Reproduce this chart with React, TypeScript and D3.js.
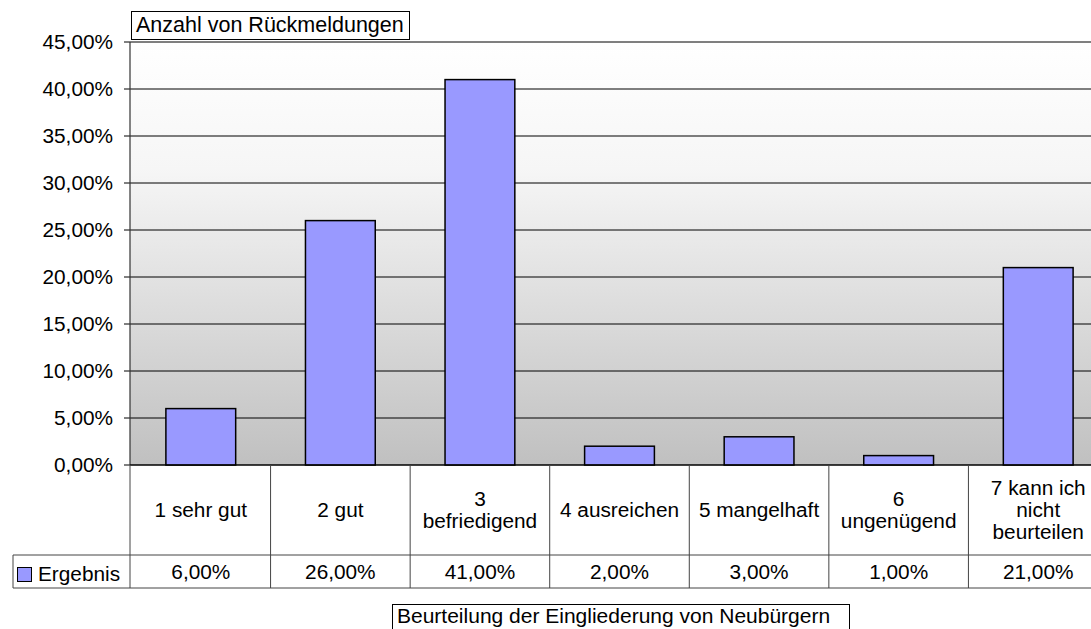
import React from "react";
import * as d3 from "d3";

const categories: string[][] = [
  ["1 sehr gut"],
  ["2 gut"],
  ["3", "befriedigend"],
  ["4 ausreichen"],
  ["5 mangelhaft"],
  ["6", "ungenügend"],
  ["7 kann ich", "nicht", "beurteilen"],
];
const values: number[] = [0.06, 0.26, 0.41, 0.02, 0.03, 0.01, 0.21];
const valueLabels: string[] = ["6,00%", "26,00%", "41,00%", "2,00%", "3,00%", "1,00%", "21,00%"];
const yTicks: number[] = [0, 0.05, 0.1, 0.15, 0.2, 0.25, 0.3, 0.35, 0.4, 0.45];
const seriesName = "Ergebnis";
const yTitle = "Anzahl von Rückmeldungen";
const xTitle = "Beurteilung der Eingliederung von Neubürgern";

const FONT = "'Liberation Sans', Arial, Helvetica, sans-serif";
const FS = 20;
const SX = 1.04;

function T({ x, y, anchor = "start", fs = FS, sx = SX, children }: { x: number; y: number; anchor?: string; fs?: number; sx?: number; children: React.ReactNode }) {
  return (
    <text
      transform={`translate(${x},${y}) scale(${sx},1)`}
      textAnchor={anchor as any}
      fontFamily={FONT}
      fontSize={fs}
      fill="#000"
    >
      {children}
    </text>
  );
}

export default function App() {
  const W = 1091, H = 629;
  const left = 130, top = 42, bottom = 465;
  const rowSplit = 555, tableBottom = 588;
  const ids = categories.map((_, i) => String(i));
  const x = d3.scaleBand<string>().domain(ids).range([131, 1108]).padding(0);
  const y = d3.scaleLinear().domain([0, 0.45]).range([bottom, top]);
  const bw = x.bandwidth();
  const fmt = (v: number) => d3.format(".2f")(v * 100).replace(".", ",") + "%";

  return (
    <svg width={W} height={H} style={{ position: "absolute", left: 0, top: 0 }}>
      <defs>
        <linearGradient id="bg" x1="0" y1="0" x2="0" y2="1">
          <stop offset="0" stopColor="#ffffff" />
          <stop offset="0.3" stopColor="#f6f6f6" />
          <stop offset="1" stopColor="#c0c0c0" />
        </linearGradient>
      </defs>
      <rect x={0} y={0} width={W} height={H} fill="#fff" />
      <rect x={left} y={top} width={W - left + 20} height={bottom - top} fill="url(#bg)" />
      {yTicks.map((t) => (
        <line key={t} x1={left - 6} x2={W + 20} y1={y(t)} y2={y(t)} stroke="#000" strokeWidth={1} />
      ))}
      <line x1={left} x2={left} y1={top} y2={bottom} stroke="#333" strokeWidth={1.2} />
      {yTicks.map((t) => (
        <T key={"l" + t} x={113} y={y(t) + 7} anchor="end">{fmt(t)}</T>
      ))}
      {values.map((v, i) => (
        <rect
          key={i}
          x={(x(String(i)) as number) + bw / 4}
          y={y(v)}
          width={bw / 2}
          height={bottom - y(v)}
          fill="#9999ff"
          stroke="#000"
          strokeWidth={1.5}
        />
      ))}
      <line x1={left} x2={W + 20} y1={bottom} y2={bottom} stroke="#000" strokeWidth={1.2} />
      <line x1={13} x2={W + 20} y1={rowSplit} y2={rowSplit} stroke="#444" strokeWidth={1} />
      <line x1={13} x2={W + 20} y1={tableBottom} y2={tableBottom} stroke="#444" strokeWidth={1} />
      <line x1={13} x2={13} y1={rowSplit} y2={tableBottom} stroke="#444" strokeWidth={1} />
      <line x1={left} x2={left} y1={bottom} y2={tableBottom} stroke="#444" strokeWidth={1} />
      {ids.map((id) => (
        <line key={"v" + id} x1={(x(id) as number) + bw} x2={(x(id) as number) + bw} y1={bottom} y2={tableBottom} stroke="#444" strokeWidth={1} />
      ))}
      {categories.map((lines, i) => {
        const cx = (x(String(i)) as number) + bw / 2;
        const cy = (bottom + rowSplit) / 2;
        const lh = 22;
        const start = cy - ((lines.length - 1) * lh) / 2;
        return lines.map((ln, j) => (
          <T key={i + "-" + j} x={cx} y={start + j * lh + 7} anchor="middle">{ln}</T>
        ));
      })}
      {valueLabels.map((lab, i) => (
        <T key={"val" + i} x={(x(String(i)) as number) + bw / 2} y={(rowSplit + tableBottom) / 2 + 7.5} anchor="middle">{lab}</T>
      ))}
      <rect x={17.5} y={567.5} width={14} height={14} fill="#9999ff" stroke="#000" strokeWidth={1} />
      <T x={38} y={581}>{seriesName}</T>
      <rect x={131.5} y={11.5} width={278} height={28} fill="#fff" stroke="#000" strokeWidth={1} />
      <T x={136} y={32} fs={21.5} sx={1}>{yTitle}</T>
      <rect x={392.5} y={604.5} width={457} height={30} fill="#fff" stroke="#000" strokeWidth={1} />
      <T x={397} y={623} fs={21} sx={1}>{xTitle}</T>
    </svg>
  );
}
